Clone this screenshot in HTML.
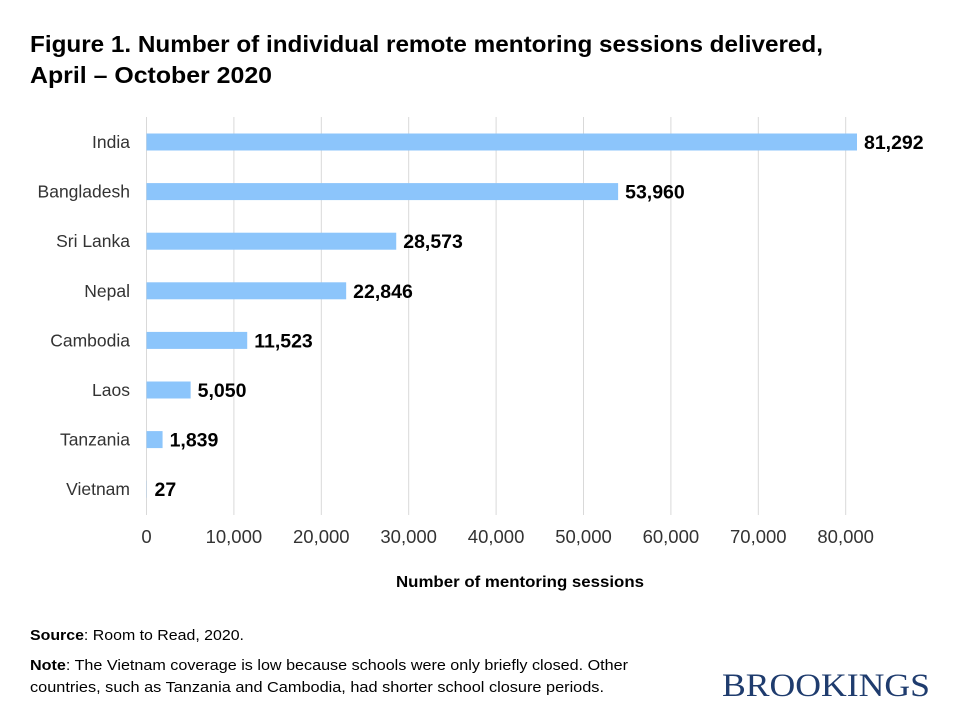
<!DOCTYPE html>
<html><head><meta charset="utf-8"><style>
body{margin:0;background:#fff;width:960px;height:720px;overflow:hidden;font-family:"Liberation Sans",sans-serif}
</style></head><body>
<svg width="960" height="720" xmlns="http://www.w3.org/2000/svg">
<text x="30" y="52" font-size="23" font-weight="bold" fill="#000" textLength="793" lengthAdjust="spacingAndGlyphs">Figure 1. Number of individual remote mentoring sessions delivered,</text>
<text x="30" y="83" font-size="23" font-weight="bold" fill="#000" textLength="242" lengthAdjust="spacingAndGlyphs">April – October 2020</text>
<g id="grid"></g><g id="bars"></g>
<text x="396" y="587" font-size="16" font-weight="bold" textLength="248" lengthAdjust="spacingAndGlyphs">Number of mentoring sessions</text>
<text x="30" y="640" font-size="15" textLength="214" lengthAdjust="spacingAndGlyphs"><tspan font-weight="bold">Source</tspan>: Room to Read, 2020.</text>
<text x="30" y="670" font-size="15" textLength="598" lengthAdjust="spacingAndGlyphs"><tspan font-weight="bold">Note</tspan>: The Vietnam coverage is low because schools were only briefly closed. Other</text>
<text x="30" y="692" font-size="15" textLength="574" lengthAdjust="spacingAndGlyphs">countries, such as Tanzania and Cambodia, had shorter school closure periods.</text>
<text x="722" y="696" font-size="33" textLength="208" lengthAdjust="spacingAndGlyphs" fill="#1f3c6e" font-family="Liberation Serif, serif">BROOKINGS</text>
</svg>
<script>
const categories=["India","Bangladesh","Sri Lanka","Nepal","Cambodia","Laos","Tanzania","Vietnam"];
const values=[81292,53960,28573,22846,11523,5050,1839,27];
const labels=["81,292","53,960","28,573","22,846","11,523","5,050","1,839","27"];
const ticks=[0,10000,20000,30000,40000,50000,60000,70000,80000];
const tickLabels=["0","10,000","20,000","30,000","40,000","50,000","60,000","70,000","80,000"];
const NS="http://www.w3.org/2000/svg";
const x=v=>146.5+v*87.4/10000;
const y=i=>142+i*49.6;
function mk(t,a,p){const e=document.createElementNS(NS,t);for(const k in a)e.setAttribute(k,a[k]);p.appendChild(e);return e;}
const g=document.getElementById('grid'),b=document.getElementById('bars');
ticks.forEach((t,i)=>{
 const l=mk('line',{x1:x(t),x2:x(t),y1:117,y2:515,stroke:'#d9d9d9','stroke-width':1},g);
 
 
 const tx=mk('text',{x:x(t),y:543,'font-size':18.5,'text-anchor':'middle',fill:'#333'},g);
 tx.textContent=tickLabels[i];
 
 
});
categories.forEach((c,i)=>{
 const cl=mk('text',{x:130,y:y(i)+6,'font-size':17.5,'text-anchor':'end',fill:'#333'},b);
 cl.textContent=c;
 
 
 const r=mk('rect',{x:x(0),y:y(i)-8.5,width:Math.max(0,x(values[i])-x(0)),height:17,fill:'#8cc5fb'},b);
 
 
 const vl=mk('text',{x:Math.max(x(values[i]),x(0)+1)+7,y:y(i)+7,'font-size':19.5,'font-weight':'bold',fill:'#000'},b);
 vl.textContent=labels[i];
 
 
});
</script>
</body></html>
